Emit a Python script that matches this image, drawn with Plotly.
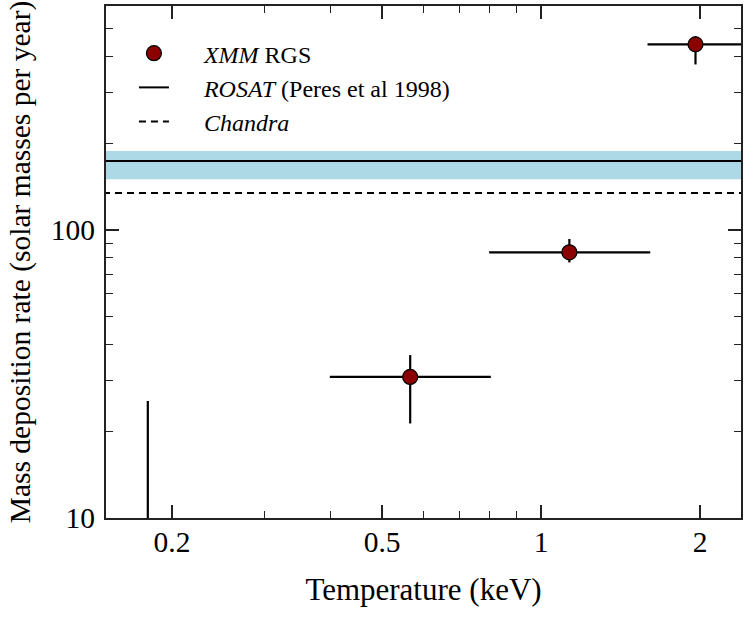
import math
import plotly.graph_objects as go

# ---- data ----
xmm_T = [0.565, 1.131, 1.960]
xmm_T_lo = [0.398, 0.797, 1.590]
xmm_T_hi = [0.803, 1.609, 2.45]
xmm_rate = [30.9, 83.7, 441.5]
xmm_rate_lo = [21.3, 77.2, 376.0]
xmm_rate_hi = [36.8, 93.1, 471.7]

ul_T = [0.18]
ul_rate = [25.5]

rosat_rate = 173.6
rosat_lo = 150.0
rosat_hi = 188.0
chandra_rate = 134.5

x_range = [0.15, 2.39]
y_range = [10, 600]

x_tickvals = [0.2, 0.5, 1, 2]
x_ticktext = ["0.2", "0.5", "1", "2"]
x_minor = [0.3, 0.4, 0.6, 0.7, 0.8, 0.9]
y_tickvals = [10, 100]
y_ticktext = ["10", "100"]
y_minor = [20, 30, 40, 50, 60, 70, 80, 90, 200, 300, 400, 500]

legend_names = ["<i>XMM</i> RGS", "<i>ROSAT</i> (Peres et al 1998)", "<i>Chandra</i>"]

FONT = "Liberation Serif"
PAD = "&nbsp;" * 5

fig = go.Figure()

line_x = [x_range[0] * 0.5, x_range[1] * 2]

fig.add_shape(type="rect", xref="paper", x0=0, x1=1, yref="y",
              y0=rosat_lo, y1=rosat_hi, fillcolor="#ADD8E6", line_width=0,
              layer="below")

fig.add_trace(go.Scatter(
    x=xmm_T, y=xmm_rate, mode="markers", name=PAD + legend_names[0],
    marker=dict(size=15, color="#8B0000", line=dict(color="black", width=1.2)),
    error_x=dict(type="data", symmetric=False,
                 array=[h - c for h, c in zip(xmm_T_hi, xmm_T)],
                 arrayminus=[c - l for l, c in zip(xmm_T_lo, xmm_T)],
                 color="black", thickness=2.2, width=0),
    error_y=dict(type="data", symmetric=False,
                 array=[h - c for h, c in zip(xmm_rate_hi, xmm_rate)],
                 arrayminus=[c - l for l, c in zip(xmm_rate_lo, xmm_rate)],
                 color="black", thickness=2.2, width=0),
))

fig.add_trace(go.Scatter(
    x=line_x, y=[rosat_rate, rosat_rate], mode="lines",
    name=PAD + legend_names[1],
    line=dict(color="black", width=2),
))

fig.add_trace(go.Scatter(
    x=line_x, y=[chandra_rate, chandra_rate], mode="lines",
    name=PAD + legend_names[2],
    line=dict(color="black", width=2, dash="7px,5px"),
))

fig.add_trace(go.Scatter(
    x=[ul_T[0], ul_T[0]], y=[1, ul_rate[0]], mode="lines",
    line=dict(color="black", width=2.2), showlegend=False,
))

axis_common = dict(
    type="log", showline=True, linecolor="#222", linewidth=2, mirror="allticks",
    ticks="inside", ticklen=13, tickwidth=1.6, tickcolor="#222",
    showgrid=False, zeroline=False, tickmode="array", automargin=False,
    tickfont=dict(family=FONT, size=29.5, color="black"),
)

fig.update_xaxes(
    **axis_common,
    range=[math.log10(x_range[0]), math.log10(x_range[1])],
    tickvals=x_tickvals, ticktext=x_ticktext,
    minor=dict(tickmode="array", tickvals=x_minor, ticks="inside", ticklen=7,
               tickwidth=1.4, tickcolor="#222", showgrid=False),
    title=dict(text="Temperature (keV)", font=dict(family=FONT, size=31, color="black"),
               standoff=21),
    ticklabelstandoff=-3,
)
fig.update_yaxes(
    **axis_common,
    range=[math.log10(y_range[0]), math.log10(y_range[1])],
    tickvals=y_tickvals, ticktext=y_ticktext,
    minor=dict(tickmode="array", tickvals=y_minor, ticks="inside", ticklen=7,
               tickwidth=1.4, tickcolor="#222", showgrid=False),
    title=dict(text="Mass deposition rate (solar masses per year)",
               font=dict(family=FONT, size=29.5, color="black"), standoff=12),
    ticklabelstandoff=3,
)

fig.update_layout(
    width=747, height=625,
    margin=dict(l=106, r=6, t=6, b=107),
    paper_bgcolor="white", plot_bgcolor="white",
    showlegend=True,
    legend=dict(x=0.044, y=0.951, xanchor="left", yanchor="top",
                font=dict(family=FONT, size=24, color="black"),
                bgcolor="rgba(0,0,0,0)", itemwidth=30, tracegroupgap=0),
)

fig.write_html("out.html", config={"displayModeBar": False},
               post_script="document.body.style.margin='0';")
